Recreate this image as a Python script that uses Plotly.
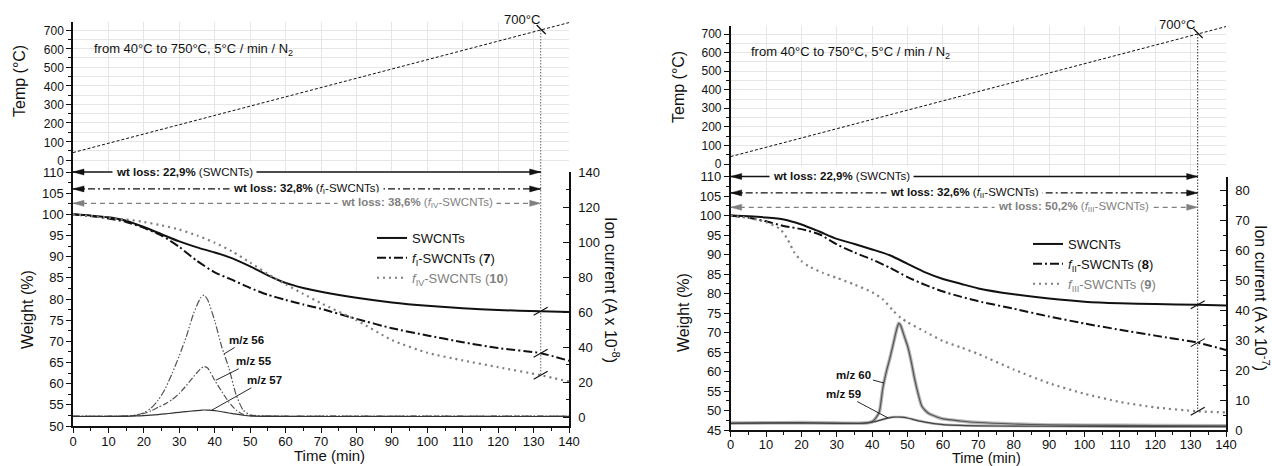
import plotly.graph_objects as go

W, H = 1272, 466
FONT = "Liberation Sans, Arial, sans-serif"
INK = "#111111"
GREY = "#7f7f7f"
GRID = "#e6e6e6"

# ------------------------------------------------------------------ data
TIME = [0, 5, 10, 15, 20, 25, 30, 35, 40, 45, 50, 55, 60, 65, 70, 80, 90, 100, 110, 120, 132, 140]

# left panel: weight (%)
L_SWCNT = [100, 99.7, 99.3, 98.5, 97.0, 95.3, 93.6, 92.2, 91.0, 89.6, 87.7, 85.6, 83.8, 82.6, 81.7, 80.3, 79.2, 78.4, 77.8, 77.4, 77.1, 76.9]
L_FI = [100, 99.6, 99.0, 98.2, 96.8, 95.0, 92.3, 89.0, 86.3, 84.5, 82.6, 81.0, 79.8, 78.7, 77.7, 75.3, 73.1, 71.4, 69.8, 68.4, 67.2, 65.4]
L_FIV = [100, 99.6, 99.2, 98.8, 98.2, 97.4, 96.4, 95.0, 93.3, 91.2, 88.6, 85.9, 83.5, 81.2, 79.0, 75.0, 70.3, 67.3, 65.5, 63.9, 62.0, 60.5]

# left panel: ion current (A x 1e-8)
ION_L_TIME = [0, 10, 15, 18, 20, 22, 24, 26, 28, 30, 32, 34, 36, 37, 38, 40, 42, 44, 46, 48, 50, 55, 60, 80, 100, 120, 140]
MZ56 = [0.5, 0.5, 0.6, 1.2, 2.5, 5, 9.5, 16, 25, 35, 46, 59, 68, 69.7, 67, 55, 40, 28, 13, 4, 1.2, 0.6, 0.5, 0.5, 0.5, 0.5, 0.5]
MZ55 = [0.5, 0.5, 0.6, 1.0, 2.0, 3.5, 5.5, 7.5, 10, 13.5, 18, 23, 27.5, 28.8, 28, 21, 14.5, 8.5, 4, 1.5, 0.7, 0.5, 0.5, 0.5, 0.5, 0.5, 0.5]
MZ57 = [0.3, 0.3, 0.4, 0.6, 0.8, 1.1, 1.4, 1.8, 2.2, 2.7, 3.1, 3.5, 3.8, 4.0, 3.9, 3.6, 3.0, 2.3, 1.6, 1.0, 0.6, 0.4, 0.3, 0.3, 0.3, 0.3, 0.3]

# right panel: weight (%)
R_SWCNT = [100, 99.8, 99.5, 99.0, 97.7, 95.9, 94.0, 92.7, 91.3, 89.8, 87.6, 85.4, 83.7, 82.5, 81.3, 79.8, 78.7, 77.9, 77.5, 77.3, 77.1, 76.9]
R_FII = [100, 99.4, 98.5, 97.3, 96.5, 95.2, 92.6, 90.5, 88.7, 86.6, 84.2, 82.2, 80.5, 79.2, 78.0, 76.1, 74.1, 72.3, 70.7, 69.2, 67.4, 65.5]
R_FIII_TIME = [0, 5, 10, 14, 16, 18, 20, 22, 26, 30, 35, 40, 43, 46, 48, 50, 55, 60, 65, 70, 80, 90, 100, 110, 120, 132, 140]
R_FIII = [100, 99.4, 98.3, 96.5, 94.0, 90.5, 88.3, 87.0, 85.3, 84.0, 82.3, 80.3, 78.5, 75.5, 73.8, 72.6, 70.2, 67.8, 66.2, 64.5, 60.5, 57.0, 54.3, 52.2, 50.8, 49.8, 49.5]

# right panel: ion current (A x 1e-7)
MZ60_TIME = [0, 10, 20, 30, 38, 40, 41, 42, 43, 44, 45, 46, 47, 47.5, 48, 49, 50, 51, 52, 53, 54, 55, 56, 58, 60, 65, 70, 80, 90, 100, 120, 140]
MZ60 = [2.3, 2.4, 2.5, 2.3, 2.3, 2.8, 4, 6, 14, 19.5, 24, 29, 34, 35.6, 35, 31.5, 28, 23, 17, 12, 8, 6.5, 5.5, 4.5, 3.7, 3.0, 2.5, 2.0, 1.7, 1.6, 1.5, 1.4]
MZ59_TIME = [0, 10, 20, 30, 38, 40, 42, 44, 46, 48, 50, 52, 55, 60, 70, 80, 100, 120, 140]
MZ59 = [2.2, 2.3, 2.3, 2.2, 2.3, 2.6, 3.2, 3.9, 4.3, 4.3, 4.0, 3.4, 2.6, 1.8, 1.4, 1.3, 1.2, 1.1, 1.1]

# temperature programme (both panels)
TEMP_TIME = [0, 132, 140]
TEMP_C = [40, 700, 740]

BREAK_T = 132      # time at which 700 °C is reached
BREAK_TEMP = 700

# ------------------------------------------------------------------ geometry (pixels)
def px(x):
    return x / W


def py(y):
    return 1 - y / H


PANELS = {
    "L": dict(x0=73, x1=569, wt_top=172, wt_bot=426, tp_top=22,
              wt_range=[50, 110], ion_range=[-5.14, 140], tp_range=[-64.6, 743.1],
              ion_dtick=20, wt_tick0=50, xstand=-2, tshift=1),
    "R": dict(x0=730.7, x1=1226, wt_top=176.5, wt_bot=430, tp_top=25.7,
              wt_range=[45, 110], ion_range=[0, 84.6], tp_range=[-67.3, 744.7],
              ion_dtick=10, wt_tick0=45, xstand=-3, tshift=0),
}

AX = {
    "L": dict(x="x", y="y", ion="y2", tx="x2", ty="y3"),
    "R": dict(x="x3", y="y4", ion="y5", tx="x4", ty="y6"),
}


def lname(a):
    return a[0] + "axis" + a[1:]


layout = dict(
    width=W, height=H, autosize=False,
    margin=dict(l=0, r=0, t=0, b=0),
    paper_bgcolor="white", plot_bgcolor="rgba(0,0,0,0)",
    font=dict(family=FONT, size=13, color=INK),
    showlegend=True,
)

for key, g in PANELS.items():
    a = AX[key]
    xdom = [px(g["x0"]), px(g["x1"])]
    wdom = [py(g["wt_bot"]), py(g["wt_top"])]
    tdom = [py(g["wt_top"]), py(g["tp_top"])]
    layout[lname(a["x"])] = dict(
        domain=xdom, anchor=a["y"], range=[0, 140], tick0=0, dtick=10,
        ticks="outside", ticklen=5, tickwidth=1.2, tickcolor=INK,
        showline=True, linecolor=INK, linewidth=1.5, showgrid=False, zeroline=False,
        minor=dict(dtick=5, ticks="outside", ticklen=3, tickwidth=1, tickcolor=INK),
        tickfont=dict(size=13), ticklabelstandoff=g["xstand"], automargin=False,
    )
    layout[lname(a["y"])] = dict(
        domain=wdom, anchor=a["x"], range=g["wt_range"], tick0=g["wt_tick0"], dtick=5,
        ticks="outside", ticklen=5, tickwidth=1.2, tickcolor=INK,
        showline=True, linecolor=INK, linewidth=1.5, showgrid=False, zeroline=False,
        minor=dict(dtick=2.5, ticks="outside", ticklen=3, tickwidth=1, tickcolor=INK),
        tickfont=dict(size=13), automargin=False,
    )
    layout[lname(a["ion"])] = dict(
        overlaying=a["y"], anchor=a["x"], side="right", range=g["ion_range"],
        tick0=0, dtick=g["ion_dtick"],
        ticks="inside", ticklen=6, tickwidth=1.2, tickcolor=INK,
        showline=True, linecolor=INK, linewidth=1.5, showgrid=False, zeroline=False,
        minor=dict(dtick=g["ion_dtick"] / 2, ticks="inside", ticklen=3.5, tickwidth=1, tickcolor=INK),
        tickfont=dict(size=13), ticklabelstandoff=5, automargin=False,
    )
    layout[lname(a["tx"])] = dict(
        domain=xdom, anchor=a["ty"], range=[0, 140], tick0=0, dtick=10,
        showgrid=True, gridcolor=GRID, gridwidth=1,
        showline=False, showticklabels=False, ticks="", zeroline=False, automargin=False,
    )
    layout[lname(a["ty"])] = dict(
        domain=tdom, anchor=a["tx"], range=g["tp_range"],
        tickmode="array", tickvals=list(range(0, 701, 100)),
        ticks="outside", ticklen=5, tickwidth=1.2, tickcolor=INK,
        showline=True, linecolor=INK, linewidth=1.5,
        showgrid=True, gridcolor=GRID, gridwidth=1, zeroline=False,
        minor=dict(tickmode="array", tickvals=list(range(50, 700, 100)), ticks="outside",
                   ticklen=3, tickwidth=1, tickcolor=INK, showgrid=True, gridcolor=GRID),
        tickfont=dict(size=12), ticklabelshift=g["tshift"], automargin=False,
    )

traces = []


def add_line(x, y, xa, ya, color, width, dash="solid", name=None, legend=None, shape="linear"):
    kw = dict(x=x, y=y, xaxis=xa, yaxis=ya, mode="lines",
              line=dict(color=color, width=width, dash=dash, shape=shape, smoothing=0.6),
              hoverinfo="skip", showlegend=name is not None)
    if name is not None:
        kw["name"] = name
        kw["legend"] = legend
    traces.append(go.Scatter(**kw))


DASHDOT = "9px,3px,2px,3px"
DOTS = "2px,4px"
DASH_DOT_DOT_THIN = "7px,2px,1.5px,2px,1.5px,2px"
DASH_DOT_THIN = "6px,2px,1.5px,2px"

# ---------- temperature subplots
for key in ("L", "R"):
    a = AX[key]
    g = PANELS[key]
    add_line(TEMP_TIME, TEMP_C, a["tx"], a["ty"], INK, 1, "3px,2px")
    add_line([BREAK_T, BREAK_T], [BREAK_TEMP, g["tp_range"][0]], a["tx"], a["ty"],
             GREY if key == "L" else "#333333", 1.2 if key == "L" else 1, "1.5px,1.5px")

# ---------- left weight + ion
aL = AX["L"]
add_line(TIME, L_SWCNT, aL["x"], aL["y"], INK, 2, "solid", "SWCNTs", "legend", "spline")
add_line(TIME, L_FI, aL["x"], aL["y"], INK, 2, DASHDOT,
         "<i>f</i><sub>I</sub>-SWCNTs (<b>7</b>)", "legend", "spline")
add_line(TIME, L_FIV, aL["x"], aL["y"], GREY, 2.2, DOTS,
         '<span style="color:#7f7f7f"><i>f</i><sub>IV</sub>-SWCNTs (<b>10</b>)</span>', "legend", "spline")
iL = TIME.index(BREAK_T)
add_line([BREAK_T, BREAK_T], [PANELS["L"]["wt_range"][1], min(L_SWCNT[iL], L_FI[iL], L_FIV[iL])],
         aL["x"], aL["y"], GREY, 1.2, "1.5px,1.5px")
add_line(ION_L_TIME, MZ56, aL["x"], aL["ion"], "#555555", 1.2, DASH_DOT_DOT_THIN, shape="spline")
add_line(ION_L_TIME, MZ55, aL["x"], aL["ion"], "#555555", 1.2, DASH_DOT_THIN, shape="spline")
add_line(ION_L_TIME, MZ57, aL["x"], aL["ion"], "#333333", 1.2, "solid", shape="spline")

# ---------- right weight + ion
aR = AX["R"]
add_line(TIME, R_SWCNT, aR["x"], aR["y"], INK, 2, "solid", "SWCNTs", "legend2", "spline")
add_line(TIME, R_FII, aR["x"], aR["y"], INK, 2, DASHDOT,
         "<i>f</i><sub>II</sub>-SWCNTs (<b>8</b>)", "legend2", "spline")
add_line(R_FIII_TIME, R_FIII, aR["x"], aR["y"], GREY, 2.2, DOTS,
         '<span style="color:#7f7f7f"><i>f</i><sub>III</sub>-SWCNTs (<b>9</b>)</span>', "legend2", "spline")
iR = TIME.index(BREAK_T)
iR3 = R_FIII_TIME.index(BREAK_T)
add_line([BREAK_T, BREAK_T], [PANELS["R"]["wt_range"][1], min(R_SWCNT[iR], R_FII[iR], R_FIII[iR3])],
         aR["x"], aR["y"], "#333333", 1, "1.5px,1.5px")
add_line(MZ60_TIME, MZ60, aR["x"], aR["ion"], "#b5b5b5", 3.5, "solid", shape="spline")
add_line(MZ59_TIME, MZ59, aR["x"], aR["ion"], "#b5b5b5", 2.5, "solid", shape="spline")
add_line(MZ60_TIME, MZ60, aR["x"], aR["ion"], "#555555", 1.2, "solid", shape="spline")
add_line(MZ59_TIME, MZ59, aR["x"], aR["ion"], "#444444", 1.2, "solid", shape="spline")

# ------------------------------------------------------------------ decorations
shapes = []
annotations = []

WT_LOSS = {
    "L": [
        ("<b>wt loss: 22,9%</b> (SWCNTs)", 110, 31.5, INK, "solid", 1.5),
        ("<b>wt loss: 32,8%</b> (<i>f</i><sub>I</sub>-SWCNTs)", 106, 65.8, INK, "7px,3px,2px,3px", 1.2),
        ("<b>wt loss: 38,6%</b> (<i>f</i><sub>IV</sub>-SWCNTs)", 102.6, 97.2, GREY, "5px,4px", 1.3),
    ],
    "R": [
        ("<b>wt loss: 22,9%</b> (SWCNTs)", 110, 31.4, INK, "solid", 1.5),
        ("<b>wt loss: 32,6%</b> (<i>f</i><sub>II</sub>-SWCNTs)", 105.8, 66.2, INK, "7px,3px,2px,3px", 1.2),
        ("<b>wt loss: 50,2%</b> (<i>f</i><sub>III</sub>-SWCNTs)", 102.1, 97.0, GREY, "5px,4px", 1.3),
    ],
}

for key in ("L", "R"):
    a = AX[key]
    g = PANELS[key]
    for text, level, xc, col, dash, lw in WT_LOSS[key]:
        at_top = level >= g["wt_range"][1]
        yref = (a["y"] + " domain") if at_top else a["y"]
        yv = 1 if at_top else level
        shapes.append(dict(type="line", xref=a["x"], yref=yref, x0=0, x1=BREAK_T, y0=yv, y1=yv,
                           line=dict(color=col, width=lw, dash=dash), layer="above"))
        for anchor, path in ((0, "M0,0L11,3L11,-3Z"), (BREAK_T, "M0,0L-11,3L-11,-3Z")):
            shapes.append(dict(type="path", xref=a["x"], yref=yref, xsizemode="pixel", ysizemode="pixel",
                               xanchor=anchor, yanchor=yv, path=path, fillcolor=col,
                               line=dict(color=col, width=0.5), layer="above"))
        annotations.append(dict(xref=a["x"], yref=a["y"], x=xc, y=level, text=text, showarrow=False,
                                bgcolor="white", borderpad=3,
                                font=dict(size=11.5, color=col if col == GREY else INK)))
    # tick mark where the temperature line crosses 700 °C
    shapes.append(dict(type="path", xref=a["tx"], yref=a["ty"], xsizemode="pixel", ysizemode="pixel",
                       xanchor=BREAK_T, yanchor=BREAK_TEMP, path="M-4,5L5,-4",
                       line=dict(color=INK, width=1.3), layer="above"))

# break marks on the weight curves at t = 132 min
for xa, ya, vals in (
    (aL["x"], aL["y"], (L_SWCNT[iL], L_FI[iL], L_FIV[iL])),
    (aR["x"], aR["y"], (R_SWCNT[iR], R_FII[iR], R_FIII[iR3])),
):
    for v in vals:
        shapes.append(dict(type="path", xref=xa, yref=ya, xsizemode="pixel", ysizemode="pixel",
                           xanchor=BREAK_T, yanchor=v, path="M-7,-4L7,4",
                           line=dict(color=INK, width=1.1), layer="above"))


def txt(x, y, text, size=16, angle=0, xanchor="center", color=INK, yanchor="middle"):
    annotations.append(dict(xref="paper", yref="paper", x=px(x), y=py(y), text=text,
                            showarrow=False, textangle=angle, xanchor=xanchor, yanchor=yanchor,
                            font=dict(size=size, color=color, family=FONT)))


# axis titles and labels
txt(20, 81, "Temp (°C)", 16, -90)
txt(27, 310, "Weight (%)", 16, -90)
txt(329, 466, "Time (min)", 15, yanchor="bottom")
txt(612, 290, "Ion current (A x 10<sup>-8</sup>)", 16, 90)
txt(92, 49, "from 40°C to 750°C, 5°C / min / N<sub>2</sub>", 13, 0, "left")
txt(522, 20, "700°C", 13)

txt(678, 87, "Temp (°C)", 16, -90)
txt(683, 313, "Weight (%)", 16, -90)
txt(986, 468, "Time (min)", 14.5, yanchor="bottom")
txt(1262, 298, "Ion current (A x 10<sup>-7</sup>)", 16, 90)
txt(749, 53, "from 40°C to 750°C, 5°C / min / N<sub>2</sub>", 13, 0, "left")
txt(1177, 24, "700°C", 13)

# m/z labels with leader lines
MZ_LABELS = [
    (aL, "m/z 56", 42.6, 36, 23, -14),
    (aL, "m/z 55", 40.3, 21, 38, -19),
    (aL, "m/z 57", 39.1, 3.8, 53, -30),
    (aR, "m/z 60", 43.3, 15.7, -30, -8),
    (aR, "m/z 59", 44.5, 4.0, -45, -24),
]
for a, text, xv, yv, ax, ay in MZ_LABELS:
    annotations.append(dict(xref=a["x"], yref=a["ion"], x=xv, y=yv, ax=ax, ay=ay,
                            text="<b>" + text + "</b>", showarrow=True, arrowhead=0,
                            arrowwidth=0.9, arrowcolor=INK, standoff=0,
                            font=dict(size=11.5, color=INK)))

layout["shapes"] = shapes
layout["annotations"] = annotations
layout["legend"] = dict(x=px(372), y=py(223), xanchor="left", yanchor="top",
                        bgcolor="rgba(0,0,0,0)", font=dict(size=13, color=INK, family=FONT),
                        itemwidth=30, tracegroupgap=0)
layout["legend2"] = dict(x=px(1028), y=py(229), xanchor="left", yanchor="top",
                         bgcolor="rgba(0,0,0,0)", font=dict(size=13, color=INK, family=FONT),
                         itemwidth=30, tracegroupgap=0)

fig = go.Figure(data=traces, layout=layout)
fig.write_html("out.html")
